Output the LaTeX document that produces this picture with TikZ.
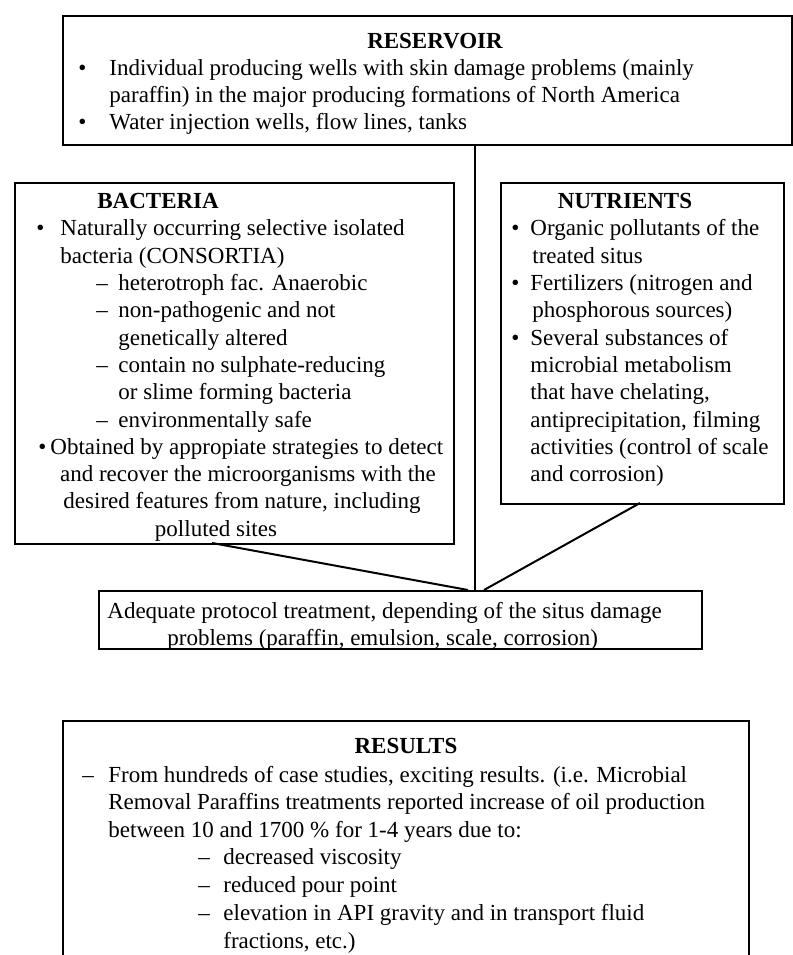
\documentclass[tikz,border=0pt]{standalone}
\usepackage{fontspec}
\setmainfont{Liberation Serif}
\begin{document}
\begin{tikzpicture}[x=0.5pt,y=-0.5pt,
  box/.style={draw,line width=1pt,rectangle,inner sep=0pt,anchor=north west},
  txt/.style={anchor=base west,inner sep=0pt,font=\fontsize{11.5}{13}\selectfont},
  ctxt/.style={anchor=base,inner sep=0pt,font=\fontsize{11.5}{13}\selectfont},
  ttl/.style={anchor=base,inner sep=0pt,font=\fontsize{11.5}{13}\selectfont\bfseries},
  link/.style={line width=1pt}]
\useasboundingbox (0,0) rectangle (793,955);

% frames
\node[box,minimum width=364.5pt,minimum height=64.5pt] (res) at (62,15) {};
\node[box,minimum width=219.5pt,minimum height=180.5pt] (bac) at (14,182) {};
\node[box,minimum width=141.5pt,minimum height=160.5pt] (nut) at (500,182) {};
\node[box,minimum width=301.5pt,minimum height=29pt] (prot) at (98,590) {};
\node[box,minimum width=343pt,minimum height=140pt] (resl) at (62,720) {};

% reservoir
\node[ttl] (resT) at (435,48) {RESERVOIR};
\node[txt] (resB1) at (78,75) {•};
\node[txt] (resL1) at (109,75) {Individual producing wells with skin damage problems (mainly};
\node[txt] (resL2) at (109,102) {paraffin) in the major producing formations of North America};
\node[txt] (resB2) at (78,129) {•};
\node[txt] (resL3) at (109,129) {Water injection wells, flow lines, tanks};

% bacteria
\node[ttl,anchor=base west] (bacT) at (97,208) {BACTERIA};
\node[txt] (bacB1) at (36,235) {•};
\node[txt] (bacL1) at (60,235) {Naturally occurring selective isolated};
\node[txt] (bacL2) at (60,263) {bacteria (CONSORTIA)};
\node[txt] (bacD1) at (96,290) {–};
\node[txt] (bacL3) at (118,290) {heterotroph fac. Anaerobic};
\node[txt] (bacD2) at (96,317) {–};
\node[txt] (bacL4) at (118,317) {non-pathogenic and not};
\node[txt] (bacL5) at (118,345) {genetically altered};
\node[txt] (bacD3) at (96,372) {–};
\node[txt] (bacL6) at (118,372) {contain no sulphate-reducing};
\node[txt] (bacL7) at (118,399) {or slime forming bacteria};
\node[txt] (bacD4) at (96,427) {–};
\node[txt] (bacL8) at (118,427) {environmentally safe};
\node[txt] (bacB2) at (38,454) {•};
\node[txt] (bacL9) at (50,454) {Obtained by appropiate strategies to detect};
\node[ctxt] (bacL10) at (248,481) {and recover the microorganisms with the};
\node[ctxt] (bacL11) at (242,508) {desired features from nature, including};
\node[ctxt] (bacL12) at (216,536) {polluted sites};

% nutrients
\node[ttl] (nutT) at (625,208) {NUTRIENTS};
\node[txt] (nutB1) at (511,235) {•};
\node[txt] (nutL1) at (530,235) {Organic pollutants of the};
\node[txt] (nutL2) at (532,263) {treated situs};
\node[txt] (nutB2) at (511,290) {•};
\node[txt] (nutL3) at (530,290) {Fertilizers (nitrogen and};
\node[txt] (nutL4) at (532,317) {phosphorous sources)};
\node[txt] (nutB3) at (511,345) {•};
\node[txt] (nutL5) at (530,345) {Several substances of};
\node[txt] (nutL6) at (530,372) {microbial metabolism};
\node[txt] (nutL7) at (530,399) {that have chelating,};
\node[txt] (nutL8) at (530,427) {antiprecipitation, filming};
\node[txt] (nutL9) at (530,454) {activities (control of scale};
\node[txt] (nutL10) at (530,481) {and corrosion)};

% protocol
\node[txt] (protL1) at (107,618) {Adequate protocol treatment, depending of the situs damage};
\node[txt] (protL2) at (167,645) {problems (paraffin, emulsion, scale, corrosion)};

% results
\node[ttl] (reslT) at (406,753) {RESULTS};
\node[txt] (reslD1) at (82,782) {–};
\node[txt] (reslL1) at (108,782) {From hundreds of case studies, exciting results. (i.e. Microbial};
\node[txt] (reslL2) at (108,809) {Removal Paraffins treatments reported increase of oil production};
\node[txt] (reslL3) at (108,837) {between 10 and 1700 \% for 1-4 years due to:};
\node[txt] (reslD2) at (198,864) {–};
\node[txt] (reslL4) at (223,864) {decreased viscosity};
\node[txt] (reslD3) at (198,892) {–};
\node[txt] (reslL5) at (223,892) {reduced pour point};
\node[txt] (reslD4) at (198,920) {–};
\node[txt] (reslL6) at (223,920) {elevation in API gravity and in transport fluid};
\node[txt] (reslL7) at (223,948) {fractions, etc.)};

% connectors into the protocol box
\coordinate (vjoin) at (475,590);
\coordinate (bfoot) at (212,543);
\coordinate (bjoin) at (468,590);
\coordinate (nfoot) at (640,503);
\coordinate (njoin) at (484,590);
\draw[link] (res.south -| vjoin) -- (vjoin);
\draw[link] (bfoot) -- (bjoin);
\draw[link] (nfoot) -- (njoin);
\end{tikzpicture}
\end{document}
